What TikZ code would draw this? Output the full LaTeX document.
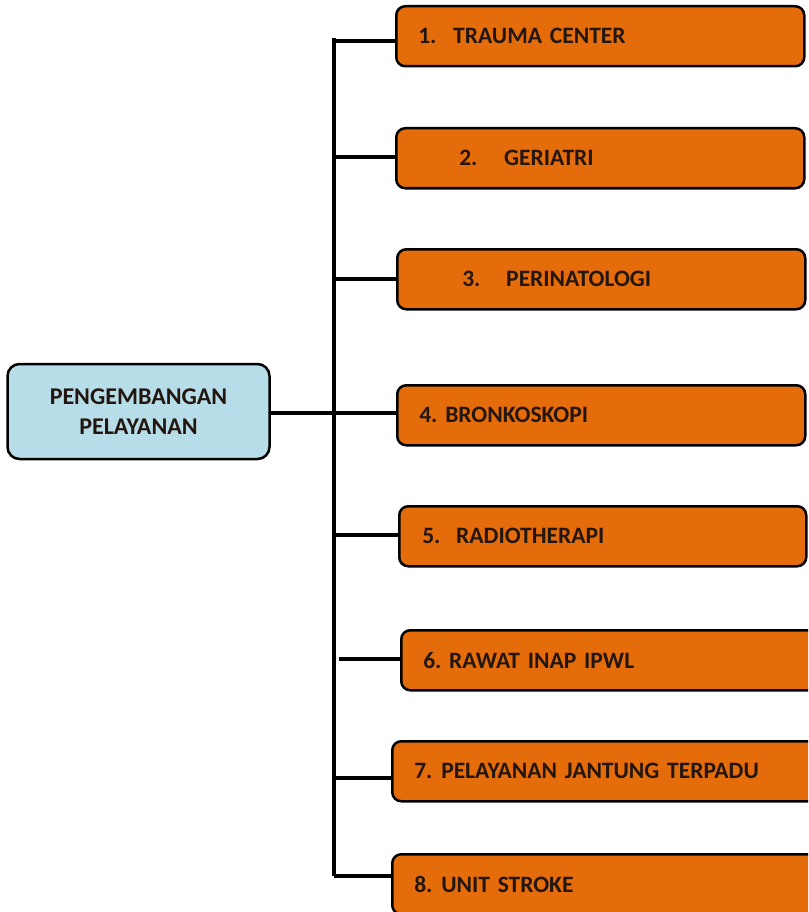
\documentclass[tikz,border=0pt]{standalone}
\usepackage{fontspec}
\setmainfont{Carlito}
\frenchspacing
\definecolor{boxorange}{RGB}{228,108,10}
\definecolor{rootblue}{RGB}{183,221,232}
\definecolor{inkdark}{RGB}{35,22,15}

\newcommand{\numbox}[2]{\makebox[#1][l]{#2}}

\tikzset{
  root/.style={draw=black, line width=2.5pt, rounded corners=12pt, fill=rootblue,
    minimum width=262pt, minimum height=95pt, align=center, text=inkdark,
    font=\bfseries\fontsize{24}{30}\selectfont},
  unit/.style={draw=black, line width=2.5pt, rounded corners=9pt, fill=boxorange,
    anchor=north west, minimum height=60pt, text width=364pt, inner xsep=22pt,
    align=left, text=inkdark, font=\bfseries\fontsize{23.5}{26}\selectfont},
  wideunit/.style={unit, text width=420pt},
  branch/.style={line width=3.5pt}
}

\begin{document}
\begin{tikzpicture}[x=1pt,y=-1pt]
\useasboundingbox (0,0) rectangle (808,912);
\clip (0,0) rectangle (808,912);

\node[root] (pp) at (138.5,411.5) {PENGEMBANGAN\\PELAYANAN};

\node[unit] (b1) at (395,5) {\numbox{35pt}{1.}TRAUMA CENTER};
\node[unit] (b2) at (395,127) {\hspace*{41pt}\numbox{45pt}{2.}GERIATRI};
\node[unit] (b3) at (396,248) {\hspace*{43pt}\numbox{44pt}{3.}PERINATOLOGI};
\node[unit] (b4) at (396,384) {4. BRONKOSKOPI};
\node[unit, text width=363pt] (b5) at (398,505) {\hspace*{1pt}\numbox{34pt}{5.}RADIOTHERAPI};
\node[wideunit] (b6) at (400,629) {\numbox{26pt}{6.}RAWAT INAP IPWL};
\node[wideunit] (b7) at (391,740) {\numbox{27pt}{7.}PELAYANAN JANTUNG TERPADU};
\node[wideunit] (b8) at (391,853) {\numbox{27pt}{8.}UNIT STROKE};

\coordinate (ttop) at (334,38);
\coordinate (tbot) at (334,876);
\coordinate (t1) at (334,41);
\coordinate (t2) at (334,157);
\coordinate (t3) at (334,279);
\coordinate (t4) at (334,413);
\coordinate (t5) at (334,535);
\coordinate (t6) at (339,659);
\coordinate (t7) at (334,778);
\coordinate (t8) at (334,876);

\draw[branch] (ttop) -- (tbot);
\draw[branch] (pp.east |- t4) -- (t4);
\foreach \i in {1,...,8}
  \draw[branch] (t\i) -- (t\i -| b\i.west);
\end{tikzpicture}
\end{document}
